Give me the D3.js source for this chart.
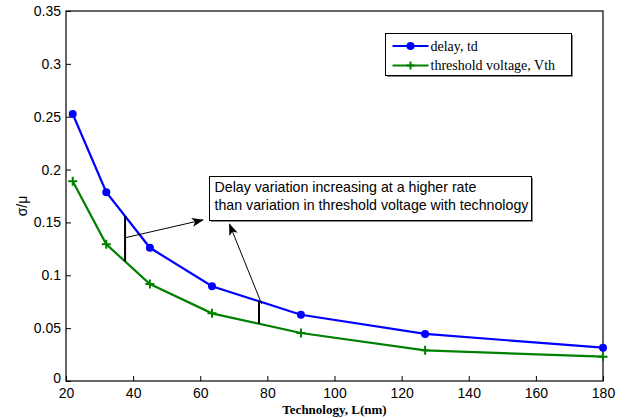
<!DOCTYPE html>
<html>
<head>
<meta charset="utf-8">
<script src="https://cdn.jsdelivr.net/npm/d3@7"></script>
<style>
  body { margin: 0; background: #fff; }
  svg { display: block; }
</style>
</head>
<body>
<svg id="chart" width="639" height="418"></svg>
<script>
// technology nodes (nm) and sigma/mu
var tech = [22, 32, 45, 63.5, 90, 127, 180];
var delayTd = [0.2526, 0.1785, 0.126, 0.0896, 0.0627, 0.0445, 0.0315];
var vthVar = [0.189, 0.1293, 0.0918, 0.064, 0.0454, 0.029, 0.023];
var xTicks = [20, 40, 60, 80, 100, 120, 140, 160, 180];
var yTicks = [0, 0.05, 0.1, 0.15, 0.2, 0.25, 0.3, 0.35];
var seriesNames = ['delay, td', 'threshold voltage, Vth'];
var noteLines = ['Delay variation increasing at a higher rate',
                 'than variation in threshold voltage with technology'];
// where the two gap markers sit along x
var gapAt = [37.6, 77.5];

var margin = {left: 66, right: 36, top: 11, bottom: 37};
var width = 639 - margin.left - margin.right,
    height = 418 - margin.top - margin.bottom;

var svg = d3.select('#chart');
var g = svg.append('g').attr('transform', 'translate(' + margin.left + ',' + margin.top + ')');

var x = d3.scaleLinear().domain([20, 180]).range([0, width]);
var y = d3.scaleLinear().domain([0, 0.35]).range([height, 0]);

var tickFont = '"Liberation Sans", Arial, sans-serif';

// axes, ticks pointing inward like matlab
var xAxis = d3.axisBottom(x).tickValues(xTicks).tickSizeInner(-5).tickSizeOuter(0).tickPadding(7)
    .tickFormat(d3.format('d'));
var yAxis = d3.axisLeft(y).tickValues(yTicks).tickSizeInner(-5).tickSizeOuter(0).tickPadding(5)
    .tickFormat(function(d) { return d === 0 ? '0' : d3.format('.2~f')(d); });

var gx = g.append('g').attr('transform', 'translate(0,' + height + ')').call(xAxis);
var gy = g.append('g').call(yAxis);
[gx, gy].forEach(function(a) {
    a.select('.domain').remove();
    a.selectAll('line').attr('stroke', '#000').attr('stroke-width', 1);
    a.selectAll('text').attr('font-family', tickFont).attr('font-size', 14).attr('fill', '#000');
});
// matlab nudges the 0 label upward
gy.selectAll('.tick').filter(function(d) { return d === 0; }).select('text').attr('dy', '0.1em');

// box
g.append('rect')
    .attr('width', width).attr('height', height)
    .attr('fill', 'none').attr('stroke', '#000').attr('stroke-width', 1.2);

// axis labels
svg.append('text')
    .attr('x', margin.left + width / 2).attr('y', 414)
    .attr('text-anchor', 'middle')
    .attr('font-family', '"Liberation Serif", "Times New Roman", serif')
    .attr('font-weight', 'bold').attr('font-size', 13)
    .text('Technology, L(nm)');

svg.append('text')
    .attr('transform', 'translate(27,' + (margin.top + height / 2 + 10) + ') rotate(-90)')
    .attr('text-anchor', 'middle')
    .attr('font-family', tickFont).attr('font-size', 14)
    .text('σ/μ');

// series
var line = d3.line().x(function(d) { return x(d[0]); }).y(function(d) { return y(d[1]); });
var delayPts = d3.zip(tech, delayTd);
var vthPts = d3.zip(tech, vthVar);

g.append('path').datum(delayPts).attr('d', line)
    .attr('fill', 'none').attr('stroke', '#0000ff').attr('stroke-width', 2.2);
g.append('path').datum(vthPts).attr('d', line)
    .attr('fill', 'none').attr('stroke', '#008000').attr('stroke-width', 2.2);

g.selectAll('.dot').data(delayPts).enter().append('circle')
    .attr('cx', function(d) { return x(d[0]); })
    .attr('cy', function(d) { return y(d[1]); })
    .attr('r', 4).attr('fill', '#0000ff');

var plusPath = function(cx, cy, s) {
    return 'M' + (cx - s) + ',' + cy + 'H' + (cx + s) + 'M' + cx + ',' + (cy - s) + 'V' + (cy + s);
};
g.selectAll('.plus').data(vthPts).enter().append('path')
    .attr('d', function(d) { return plusPath(x(d[0]), y(d[1]), 4.5); })
    .attr('stroke', '#008000').attr('stroke-width', 2);

// gap markers: vertical black segments between the two curves
var interp = function(xs, ys, v) {
    var i = d3.bisectRight(xs, v) - 1;
    var t = (v - xs[i]) / (xs[i + 1] - xs[i]);
    return ys[i] + t * (ys[i + 1] - ys[i]);
};
var gaps = gapAt.map(function(v) {
    return {x: v, top: interp(tech, delayTd, v), bot: interp(tech, vthVar, v)};
});
g.selectAll('.gap').data(gaps).enter().append('line')
    .attr('x1', function(d) { return x(d.x); }).attr('x2', function(d) { return x(d.x); })
    .attr('y1', function(d) { return y(d.top); }).attr('y2', function(d) { return y(d.bot); })
    .attr('stroke', '#000').attr('stroke-width', 2);

// arrows to the note
svg.append('defs').append('marker')
    .attr('id', 'head').attr('viewBox', '0 -5 12 10')
    .attr('refX', 11).attr('refY', 0)
    .attr('markerWidth', 12).attr('markerHeight', 10)
    .attr('markerUnits', 'userSpaceOnUse').attr('orient', 'auto')
    .append('path').attr('d', 'M0,-4.5L12,0L0,4.5L3,0Z').attr('fill', '#000');

var arrows = [
    {from: [gaps[0].x, 0.1355], to: [60.8, 0.1524]},
    {from: [gaps[1].x + 0.8, gaps[1].top - 0.0025], to: [68.7, 0.1484]}
];
g.selectAll('.arrow').data(arrows).enter().append('line')
    .attr('x1', function(d) { return x(d.from[0]); }).attr('y1', function(d) { return y(d.from[1]); })
    .attr('x2', function(d) { return x(d.to[0]); }).attr('y2', function(d) { return y(d.to[1]); })
    .attr('stroke', '#000').attr('stroke-width', 1)
    .attr('marker-end', 'url(#head)');

// note box
var note = svg.append('g').attr('transform', 'translate(209.5,176.5)');
note.append('rect').attr('x', 1.5).attr('y', 1.5).attr('width', 322).attr('height', 44)
    .attr('fill', '#888');
note.append('rect').attr('width', 322).attr('height', 44)
    .attr('fill', '#fff').attr('stroke', '#000').attr('stroke-width', 1);
note.selectAll('text').data(noteLines).enter().append('text')
    .attr('x', 5).attr('y', function(d, i) { return 15 + i * 18; })
    .attr('font-family', tickFont).attr('font-size', 14.2)
    .text(function(d) { return d; });

// legend
var leg = svg.append('g').attr('transform', 'translate(385.5,33.5)');
leg.append('rect').attr('x', 1.5).attr('y', 1.5).attr('width', 186).attr('height', 42).attr('fill', '#888');
leg.append('rect').attr('width', 186).attr('height', 42)
    .attr('fill', '#fff').attr('stroke', '#000').attr('stroke-width', 1);
var colors = ['#0000ff', '#008000'];
seriesNames.forEach(function(name, i) {
    var cy = 12.5 + i * 19.5;
    leg.append('line').attr('x1', 7).attr('x2', 43).attr('y1', cy).attr('y2', cy)
        .attr('stroke', colors[i]).attr('stroke-width', 2);
    if (i === 0) {
        leg.append('circle').attr('cx', 25).attr('cy', cy).attr('r', 4).attr('fill', colors[i]);
    } else {
        leg.append('path').attr('d', plusPath(25, cy, 4)).attr('stroke', colors[i]).attr('stroke-width', 2);
    }
    leg.append('text').attr('x', 45).attr('y', cy + 4.5)
        .attr('font-family', '"Liberation Serif", "Times New Roman", serif')
        .attr('font-size', 14)
        .text(name);
});
</script>
</body>
</html>
